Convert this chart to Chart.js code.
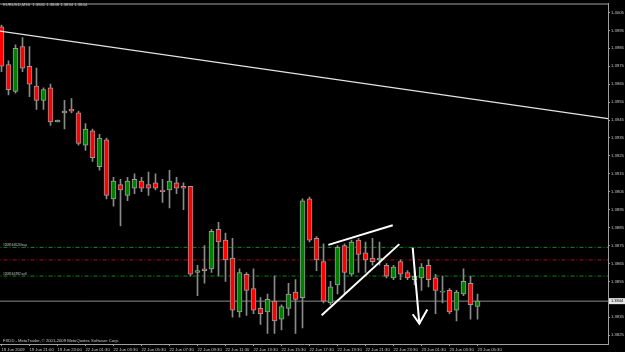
<!DOCTYPE html>
<html>
<head>
<meta charset="utf-8">
<script src="https://cdn.jsdelivr.net/npm/chart.js@4.4.1/dist/chart.umd.min.js"></script>
<style>
html, body { margin: 0; padding: 0; background: #000; overflow: hidden; }
</style>
</head>
<body>
<canvas id="chart" width="625" height="352"></canvas>
<script>
// EURUSD M30 candles, bar 0 = 19 Jun 2009 19:00
const opens  = [1.3997,1.3976,1.3961,1.3986,1.3975,1.3964,1.3956,1.3963,1.3944,1.3949,
                1.3951,1.3949,1.3931,1.3939,1.3919,1.3934,1.3901,1.3909,1.3903,1.3907,
                1.3911,1.3909,1.3910,1.3906,1.3906,1.3910,1.3908,1.3908,1.3860,1.3862,
                1.3862,1.3884,1.3878,1.3868,1.3838,1.3859,1.3851,1.3840,1.3838,1.3844,
                1.3834,1.3840,1.3849,1.3846,1.3901,1.3879,1.3866,1.3843,1.3853,1.3875,
                1.3859,1.3878,1.3871,1.3868,1.3867,1.3864,1.3857,1.3866,1.3860,1.3856,
                1.3857,1.3864,1.3857,1.3849,1.3850,1.3839,1.3848,1.3854,1.3841];
const highs  = [1.3998,1.3978,1.3987,1.3991,1.3986,1.3974,1.3963,1.3965,1.3945,1.3956,
                1.3957,1.3950,1.3943,1.3940,1.3937,1.3935,1.3913,1.3912,1.3913,1.3915,
                1.3913,1.3916,1.3915,1.3912,1.3917,1.3913,1.3910,1.3908,1.3864,1.3875,
                1.3884,1.3888,1.3882,1.3879,1.3862,1.3860,1.3862,1.3846,1.3848,1.3858,
                1.3842,1.3854,1.3856,1.3901,1.3902,1.3880,1.3876,1.3855,1.3875,1.3876,
                1.3878,1.3879,1.3877,1.3879,1.3877,1.3865,1.3864,1.3867,1.3861,1.3861,
                1.3865,1.3867,1.3859,1.3858,1.3851,1.3850,1.3862,1.3858,1.3848];
const lows   = [1.3972,1.3959,1.3960,1.3972,1.3958,1.3951,1.3951,1.3942,1.3944,1.3940,
                1.3949,1.3931,1.3928,1.3922,1.3917,1.3901,1.3897,1.3886,1.3900,1.3904,
                1.3905,1.3903,1.3906,1.3899,1.3896,1.3904,1.3895,1.3858,1.3847,1.3854,
                1.3860,1.3858,1.3855,1.3835,1.3835,1.3836,1.3837,1.3831,1.3826,1.3826,
                1.3828,1.3836,1.3826,1.3829,1.3877,1.3861,1.3843,1.3842,1.3848,1.3848,
                1.3858,1.3860,1.3860,1.3864,1.3864,1.3857,1.3856,1.3856,1.3856,1.3853,
                1.3850,1.3852,1.3837,1.3843,1.3837,1.3833,1.3847,1.3834,1.3834];
const closes = [1.3975,1.3962,1.3985,1.3974,1.3965,1.3956,1.3962,1.3944,1.3945,1.3950,
                1.3950,1.3932,1.3940,1.3924,1.3935,1.3903,1.3911,1.3906,1.3911,1.3912,
                1.3907,1.3907,1.3907,1.3905,1.3911,1.3907,1.3907,1.3859,1.3861,1.3861,
                1.3883,1.3877,1.3867,1.3839,1.3860,1.3850,1.3839,1.3837,1.3845,1.3833,
                1.3841,1.3848,1.3845,1.3900,1.3878,1.3867,1.3844,1.3852,1.3874,1.3860,
                1.3877,1.3870,1.3867,1.3866,1.3868,1.3858,1.3863,1.3859,1.3857,1.3858,
                1.3863,1.3856,1.3850,1.3849,1.3838,1.3849,1.3855,1.3842,1.3844];

// time axis labels, one every 4 bars
const xTickBars = [0,4,8,12,16,20,24,28,32,36,40,44,48,52,56,60,64,68];
const timeLabels = ['19 Jun 2009','19 Jun 21:00','19 Jun 23:00','22 Jun 01:30','22 Jun 03:30',
                    '22 Jun 05:30','22 Jun 07:30','22 Jun 09:30','22 Jun 11:30','22 Jun 13:30',
                    '22 Jun 15:30','22 Jun 17:30','22 Jun 19:30','22 Jun 21:30','22 Jun 23:30',
                    '23 Jun 01:30','23 Jun 03:30','23 Jun 05:30'];
const priceTicks = [1.3825,1.3835,1.3845,1.3855,1.3865,1.3875,1.3885,1.3895,1.3905,1.3915,
                    1.3925,1.3935,1.3945,1.3955,1.3965,1.3975,1.3985,1.3995,1.4005];

// order levels and bid
const buyLevel = 1.3874;
const stopLevel = 1.3867;
const sellLevel = 1.3858;
const bidPrice = 1.3844;

// drawn objects (bar index, price)
const trendLine = [{x: -1, y: 1.39950}, {x: 88, y: 1.39450}];
const upperWedge = [{x: 46.69, y: 1.38754}, {x: 55.89, y: 1.38863}];
const lowerWedge = [{x: 45.74, y: 1.38361}, {x: 56.83, y: 1.38758}];
const arrowShaft = [{x: 58.74, y: 1.38739}, {x: 59.69, y: 1.38315}];
const arrowHead = [{x: 58.74, y: 1.38367}, {x: 59.69, y: 1.38315}, {x: 60.83, y: 1.38393}];

const FONT = 'Liberation Sans';

function levelLine(price) {
    return [{x: -1, y: price}, {x: 88, y: price}];
}

const wickData = opens.map((o, i) => ({x: i, y: [lows[i], highs[i]]}));
const bodyData = opens.map((o, i) => ({x: i, y: [o, closes[i]]}));
const bodyColors = opens.map((o, i) => closes[i] >= o ? '#008000' : '#ff0000');

// texts that MetaTrader writes on the chart
const mtText = {
    id: 'mtText',
    beforeDraw(chart) {
        const ctx = chart.ctx;
        ctx.save();
        ctx.fillStyle = '#000';
        ctx.fillRect(0, 0, chart.width, chart.height);
        ctx.restore();
    },
    afterDraw(chart) {
        const ctx = chart.ctx;
        const area = chart.chartArea;
        const yScale = chart.scales.y;
        ctx.save();
        // top frame
        ctx.strokeStyle = '#a0a0a0';
        ctx.lineWidth = 1;
        ctx.beginPath();
        ctx.moveTo(area.left, area.top + 0.5);
        ctx.lineTo(area.right, area.top + 0.5);
        ctx.stroke();

        ctx.fillStyle = '#c8c8c8';
        ctx.textBaseline = 'middle';
        ctx.textAlign = 'left';
        ctx.font = '4.2px "' + FONT + '"';
        ctx.fillText('EURUSD,M30  1.3841 1.3848 1.3834 1.3844', 3, 5);
        ctx.fillText('FXDD - MetaTrader, \u00a9 2001-2009 MetaQuotes Software Corp.', 3, 341);

        ctx.font = '3.2px "' + FONT + '"';
        ctx.fillText('#208164520 buy', 3, yScale.getPixelForValue(buyLevel) - 2);
        ctx.fillText('#208164782 sell', 3, yScale.getPixelForValue(sellLevel) - 2);

        // bid price box on the axis
        const yb = yScale.getPixelForValue(bidPrice);
        ctx.fillStyle = '#e6e6e6';
        ctx.fillRect(area.right + 1, yb - 3, 16, 6);
        ctx.fillStyle = '#000';
        ctx.font = '4px "' + FONT + '"';
        ctx.fillText(bidPrice.toFixed(4), area.right + 3, yb);
        ctx.restore();
    }
};

new Chart(document.getElementById('chart'), {
    type: 'bar',
    data: {
        datasets: [
            {
                type: 'line', data: levelLine(buyLevel), borderColor: '#128a12', borderWidth: 1,
                borderDash: [4, 2, 1, 2], pointRadius: 0, order: 10
            },
            {
                type: 'line', data: levelLine(stopLevel), borderColor: '#a81010', borderWidth: 1,
                borderDash: [4, 2, 1, 2], pointRadius: 0, order: 10
            },
            {
                type: 'line', data: levelLine(sellLevel), borderColor: '#128a12', borderWidth: 1,
                borderDash: [4, 2, 1, 2], pointRadius: 0, order: 10
            },
            {
                type: 'line', data: levelLine(bidPrice), borderColor: '#8c8c8c', borderWidth: 1,
                pointRadius: 0, order: 10
            },
            {
                data: wickData, backgroundColor: '#8a8a8a', barThickness: 1,
                grouped: false, order: 5
            },
            {
                data: bodyData, backgroundColor: bodyColors, borderColor: '#9a9a9a', borderWidth: 1,
                borderSkipped: false, barThickness: 5, minBarLength: 1, grouped: false, order: 4
            },
            {
                type: 'line', data: trendLine, borderColor: '#e6e6e6', borderWidth: 1.2,
                pointRadius: 0, order: 1
            },
            {
                type: 'line', data: upperWedge, borderColor: '#ffffff', borderWidth: 2,
                pointRadius: 0, order: 0
            },
            {
                type: 'line', data: lowerWedge, borderColor: '#ffffff', borderWidth: 2,
                pointRadius: 0, order: 0
            },
            {
                type: 'line', data: arrowShaft, borderColor: '#ffffff', borderWidth: 2,
                pointRadius: 0, order: 0
            },
            {
                type: 'line', data: arrowHead, borderColor: '#ffffff', borderWidth: 2,
                pointRadius: 0, order: 0
            }
        ]
    },
    options: {
        responsive: false,
        animation: false,
        devicePixelRatio: 1,
        layout: { padding: { top: 1, left: 0, right: 0, bottom: 0 } },
        plugins: { legend: { display: false }, tooltip: { enabled: false } },
        scales: {
            x: {
                type: 'linear',
                min: -0.214,
                max: 86.64,
                offset: false,
                afterBuildTicks: scale => { scale.ticks = xTickBars.map(v => ({value: v})); },
                afterFit: scale => { scale.height = 8; },
                grid: { display: true, drawOnChartArea: false, tickLength: 2, color: '#a0a0a0', offset: false },
                border: { color: '#a0a0a0', width: 1 },
                ticks: {
                    autoSkip: false,
                    maxRotation: 0,
                    align: 'start',
                    padding: 1,
                    color: '#c8c8c8',
                    font: { family: FONT, size: 4.2 },
                    callback: value => {
                        const k = xTickBars.indexOf(value);
                        return k >= 0 ? timeLabels[k] : '';
                    }
                }
            },
            y: {
                type: 'linear',
                position: 'right',
                min: 1.38201,
                max: 1.40100,
                afterBuildTicks: scale => { scale.ticks = priceTicks.map(v => ({value: v})); },
                afterFit: scale => { scale.width = 17; },
                grid: { display: true, drawOnChartArea: false, tickLength: 2, color: '#a0a0a0' },
                border: { color: '#a0a0a0', width: 1 },
                ticks: {
                    padding: 1,
                    color: '#c8c8c8',
                    font: { family: FONT, size: 4.2 },
                    callback: value => value.toFixed(4)
                }
            }
        }
    },
    plugins: [mtText]
});
</script>
</body>
</html>
